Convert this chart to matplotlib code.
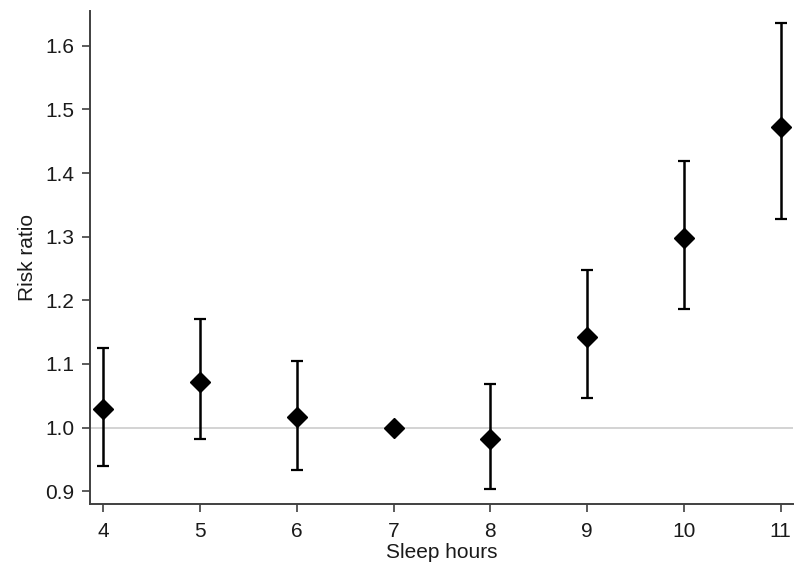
import matplotlib
matplotlib.use("Agg")
import matplotlib.pyplot as plt
import numpy as np

# sleep hours and risk ratio with 95% CI
hours = [4, 5, 6, 7, 8, 9, 10, 11]
rr = [1.029, 1.072, 1.016, 1.000, 0.982, 1.142, 1.298, 1.473]
lower = [0.940, 0.982, 0.933, 1.000, 0.903, 1.047, 1.187, 1.328]
upper = [1.125, 1.171, 1.105, 1.000, 1.069, 1.247, 1.419, 1.636]

plt.rcParams['font.family'] = ['Liberation Sans', 'DejaVu Sans']

fig = plt.figure(figsize=(8, 5.71), dpi=100)
ax = fig.add_axes([0.1125, 0.117, 0.879, 0.864])

# reference line at 1
ax.axhline(1.0, color='#d0d0d0', linewidth=1.3, zorder=0)

rr_arr = np.array(rr)
yerr = np.array([rr_arr - np.array(lower), np.array(upper) - rr_arr])
# no whisker for the reference category (7 h)
has_ci = np.array(upper) > np.array(lower)
x_arr = np.array(hours)
ax.errorbar(x_arr[has_ci], rr_arr[has_ci], yerr=yerr[:, has_ci], fmt='none',
            ecolor='black', elinewidth=1.8, capsize=4.5, capthick=1.6, zorder=2)
ax.plot(hours, rr, linestyle='none', marker='D', markersize=10,
        color='black', zorder=3)

ax.set_xlim(3.862, 11.13)
ax.set_ylim(0.8796, 1.655)
ax.set_xticks(hours)
ax.set_yticks([0.9, 1.0, 1.1, 1.2, 1.3, 1.4, 1.5, 1.6])
ax.set_yticklabels(['0.9', '1.0', '1.1', '1.2', '1.3', '1.4', '1.5', '1.6'])

for s in ['top', 'right']:
    ax.spines[s].set_visible(False)
for s in ['left', 'bottom']:
    ax.spines[s].set_color('#404040')
    ax.spines[s].set_linewidth(1.4)
ax.tick_params(axis='both', colors='#404040', length=6, width=1.2,
               labelsize=15, labelcolor='#1a1a1a', pad=5)
ax.tick_params(axis='x', pad=7)

ax.set_xlabel('Sleep hours', fontsize=15, color='#1a1a1a', labelpad=1)
ax.set_ylabel('Risk ratio', fontsize=15, color='#1a1a1a', labelpad=6)

fig.savefig('out.png', dpi=100)
